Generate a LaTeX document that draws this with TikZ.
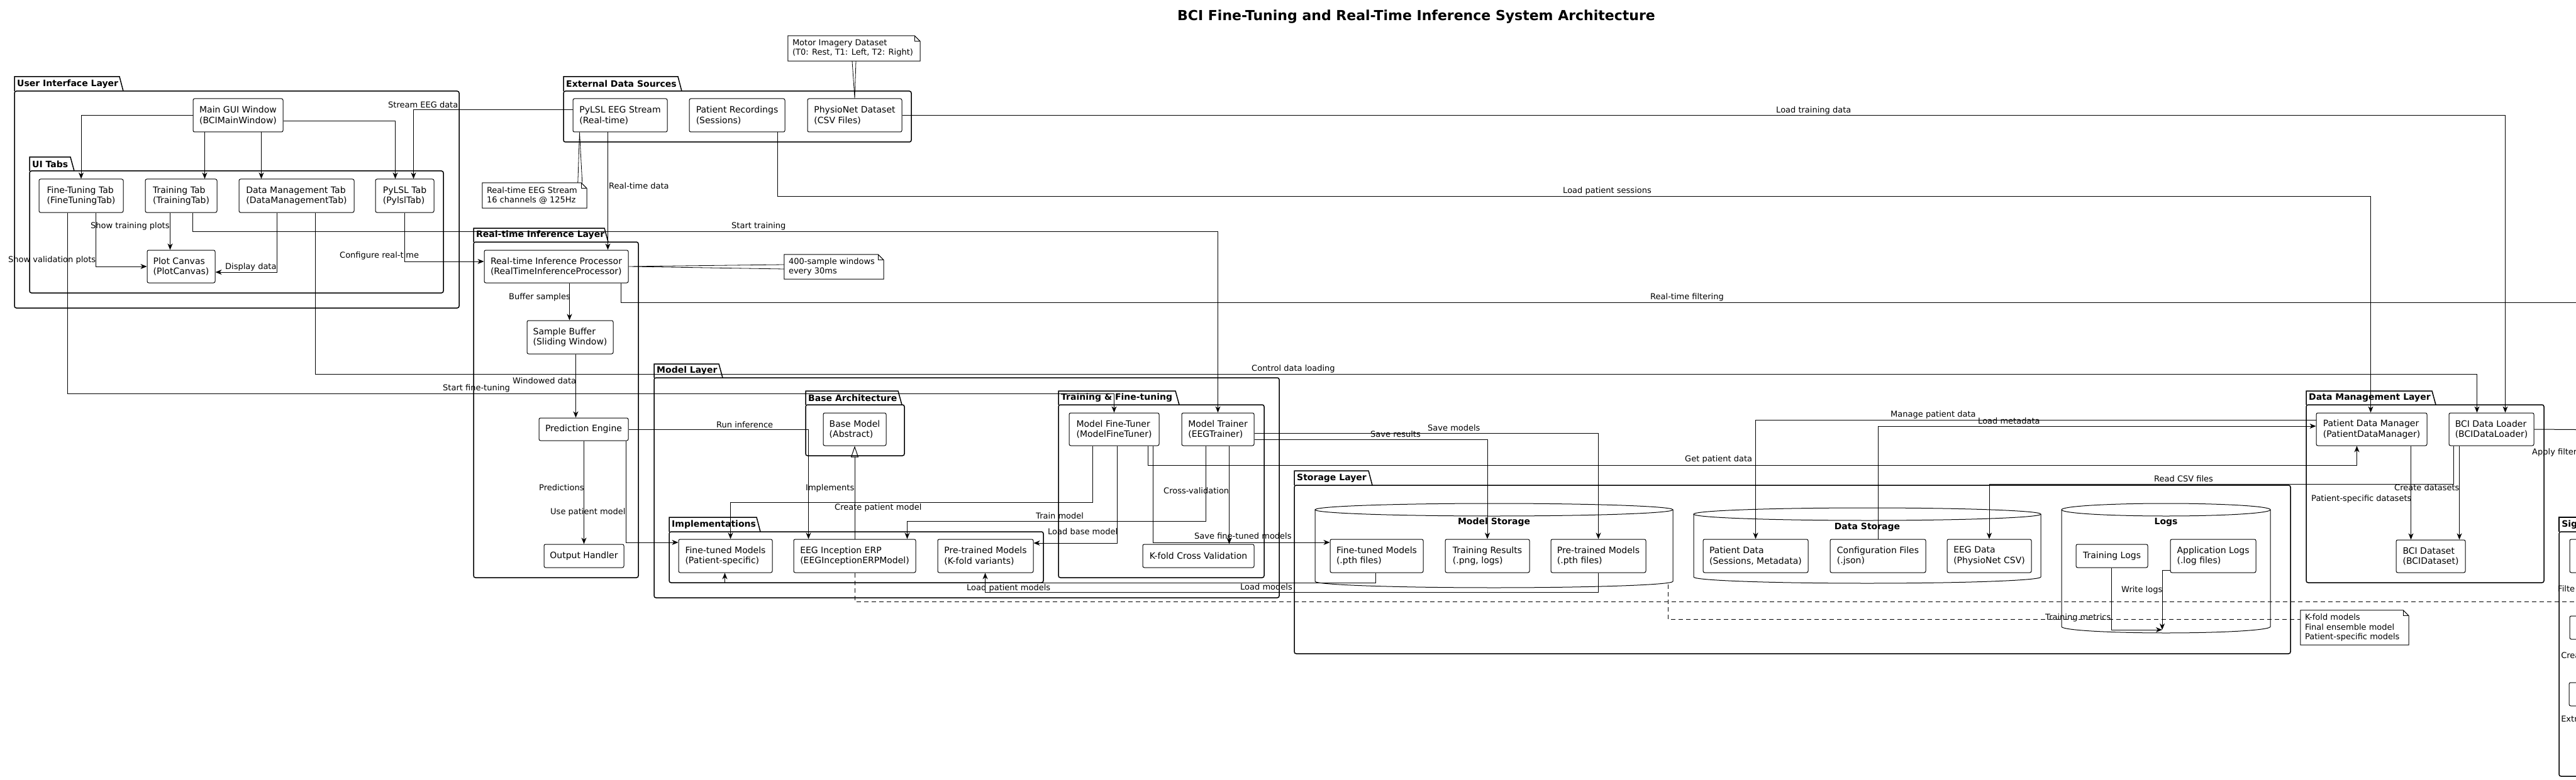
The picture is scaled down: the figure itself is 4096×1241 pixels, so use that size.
\documentclass[tikz,border=0pt]{standalone}
\usepackage{fontspec}
\setmainfont{DejaVu Sans}
\usetikzlibrary{arrows.meta,calc}
\tikzset{
 comp/.style={draw, line width=1pt, rounded corners=2.5pt, inner sep=0pt, align=left, font=\fontsize{14}{16.5}\selectfont},
 lbl/.style={anchor=west, inner sep=0pt, font=\fontsize{13}{15.5}\selectfont},
 notetxt/.style={anchor=west, inner sep=0pt, align=left, font=\fontsize{13}{15.2}\selectfont},
 arr/.style={line width=1pt, -{Stealth[length=10pt,width=8pt,inset=3pt]}},
 inh/.style={line width=1pt, -{Triangle[open,length=18pt,width=12pt]}},
 dashline/.style={line width=1pt, dash pattern=on 7pt off 5pt},
 pkgline/.style={line width=1.5pt},
 wedge/.style={line width=0.8pt},
 pkgtitle/.style={anchor=west, inner sep=0pt, font=\bfseries\fontsize{14}{16}\selectfont},
}
\newcommand\compbox[6]{%
 \pgfmathsetmacro\bxcx{(#2+#4)/2}%
 \pgfmathsetmacro\bxcy{(#3+#5)/2}%
 \pgfmathsetmacro\bxw{#4-#2}%
 \pgfmathsetmacro\bxh{#5-#3}%
 \node[comp, minimum width=\bxw pt, minimum height=\bxh pt] (#1) at (\bxcx,\bxcy) {#6};}
\newcommand\pkg[8]{%
 \draw[pkgline] (#2,#4) -- (#2,#3) -- ({#7-6},#3) -- (#7,#4);
 \draw[pkgline, rounded corners=3pt] (#2,#4) rectangle (#5,#6);
 \node[pkgtitle] (#1) at ({#2+4},{(#3+#4)/2}) {#8};}
\newcommand\notebox[6]{%
 \pgfmathsetmacro\bxcx{(#2+#4)/2}%
 \pgfmathsetmacro\bxcy{(#3+#5)/2}%
 \pgfmathsetmacro\bxw{#4-#2}%
 \pgfmathsetmacro\bxh{#5-#3}%
 \node[inner sep=0pt, minimum width=\bxw pt, minimum height=\bxh pt] (#1) at (\bxcx,\bxcy) {};
 \draw[line width=1pt] (#1.north west) -- ([xshift=-9pt]#1.north east) -- ([yshift=-9pt]#1.north east) -- (#1.south east) -- (#1.south west) -- cycle;
 \draw[line width=0.8pt] ([xshift=-9pt]#1.north east) -- ([xshift=-9pt,yshift=-9pt]#1.north east) -- ([yshift=-9pt]#1.north east);
 \node[notetxt] (#1t) at ([xshift=7pt]#1.west) {#6};}
\newcommand\cyl[7]{%
 \pgfmathsetmacro\cyrx{(#3-#2)/2}%
 \pgfmathsetmacro\cycx{(#2+#3)/2}%
 \pgfmathsetmacro\cyc{#4+10}%
 \draw[line width=1pt] (\cycx,\cyc) ellipse [x radius=\cyrx pt, y radius=10pt];
 \draw[line width=1pt] (#2,\cyc) -- (#2,#5) arc[start angle=180,end angle=360,x radius=\cyrx pt,y radius=10pt] -- (#3,\cyc);
 \node[pkgtitle,anchor=center] (#1) at (\cycx,#7) {#6};}
\newcommand\lbl[4]{\node[lbl] (#1) at (#2,#3) {#4};}
\begin{document}
\begin{tikzpicture}[x=1pt,y=-1pt]
\useasboundingbox (0,0) rectangle (4096,1241);
\fill[white] (0,0) rectangle (4096,1241);
\clip (0,0) rectangle (4096,1241);

\node[font=\bfseries\fontsize{22}{26}\selectfont] (title) at (2252,27) {BCI Fine-Tuning and Real-Time Inference System Architecture};

% packages
\pkg{pkUI}{23}{122}{145}{730}{490}{196}{User Interface Layer}
\pkg{pkTabs}{47}{250}{272}{705}{466}{118}{UI Tabs}
\pkg{pkExt}{896}{122}{145}{1449}{226}{1084}{External Data Sources}
\pkg{pkRT}{753}{363}{385}{1015}{919}{967}{Real-time Inference Layer}
\pkg{pkModel}{1040}{579}{601}{2034}{951}{1149}{Model Layer}
\pkg{pkBase}{1281}{622}{644}{1438}{725}{1434}{Base Architecture}
\pkg{pkTrain}{1683}{622}{644}{2010}{919}{1875}{Training \& Fine-tuning}
\pkg{pkImpl}{1064}{823}{846}{1659}{927}{1209}{Implementations}
\pkg{pkStore}{2058}{749}{772}{3642}{1040}{2182}{Storage Layer}
\pkg{pkData}{3667}{622}{644}{4045}{927}{3873}{Data Management Layer}
\draw[pkgline] (4069,846) -- (4069,823) -- (4160,823);
\draw[pkgline, rounded corners=3pt] (4160,846) -- (4069,846) -- (4069,1235) -- (4160,1235);
\node[pkgtitle] (pkSig) at (4073,834.5) {Sig};

% cylinders
\cyl{cyModel}{2091}{2660}{801}{925}{Model Storage}{831}
\cyl{cyData}{2693}{3245}{808}{918}{Data Storage}{839}
\cyl{cyLogs}{3278}{3610}{801}{997}{Logs}{831}

% components
\compbox{maingui}{307}{157}{450}{210}{Main GUI Window\\(BCIMainWindow)}
\compbox{ftt}{62}{285}{196}{338}{Fine-Tuning Tab\\(FineTuningTab)}
\compbox{trt}{231}{285}{345}{338}{Training Tab\\(TrainingTab)}
\compbox{dmt}{380}{285}{563}{338}{Data Management Tab\\(DataManagementTab)}
\compbox{pyt}{597}{285}{690}{338}{PyLSL Tab\\(PylslTab)}
\compbox{plot}{234}{398}{342}{450}{Plot Canvas\\(PlotCanvas)}
\compbox{lsl}{911}{157}{1061}{210}{PyLSL EEG Stream\\(Real-time)}
\compbox{prec}{1096}{157}{1248}{210}{Patient Recordings\\(Sessions)}
\compbox{physio}{1284}{157}{1434}{210}{PhysioNet Dataset\\(CSV Files)}
\compbox{rtip}{770}{398}{999}{450}{Real-time Inference Processor\\(RealTimeInferenceProcessor)}
\compbox{sbuf}{838}{510}{975}{563}{Sample Buffer\\(Sliding Window)}
\compbox{pe}{857}{665}{999}{701}{Prediction Engine}
\compbox{oh}{865}{866}{992}{903}{Output Handler}
\compbox{bm}{1309}{657}{1409}{709}{Base Model\\(Abstract)}
\compbox{mft}{1700}{657}{1843}{709}{Model Fine-Tuner\\(ModelFineTuner)}
\compbox{mt}{1879}{657}{1994}{709}{Model Trainer\\(EEGTrainer)}
\compbox{kcv}{1817}{866}{1994}{903}{K-fold Cross Validation}
\compbox{ftm}{1079}{858}{1228}{911}{Fine-tuned Models\\(Patient-specific)}
\compbox{eeginc}{1262}{858}{1456}{911}{EEG Inception ERP\\(EEGInceptionERPModel)}
\compbox{ptm}{1491}{858}{1643}{911}{Pre-trained Models\\(K-fold variants)}
\compbox{sftm}{2115}{858}{2263}{911}{Fine-tuned Models\\(.pth files)}
\compbox{str}{2298}{858}{2432}{911}{Training Results\\(.png, logs)}
\compbox{sptm}{2466}{858}{2617}{911}{Pre-trained Models\\(.pth files)}
\compbox{pdata}{2708}{858}{2875}{911}{Patient Data\\(Sessions, Metadata)}
\compbox{cfg}{2910}{858}{3062}{911}{Configuration Files\\(.json)}
\compbox{eegd}{3096}{858}{3230}{911}{EEG Data\\(PhysioNet CSV)}
\compbox{tlogs}{3301}{866}{3415}{903}{Training Logs}
\compbox{alogs}{3451}{858}{3587}{911}{Application Logs\\(.log files)}
\compbox{pdm}{3683}{657}{3859}{709}{Patient Data Manager\\(PatientDataManager)}
\compbox{bdl}{3894}{657}{4029}{709}{BCI Data Loader\\(BCIDataLoader)}
\compbox{bds}{3810}{859}{3920}{911}{BCI Dataset\\(BCIDataset)}
\compbox{spa}{4086}{858}{4200}{911}{}
\compbox{spb}{4086}{980}{4200}{1017}{}
\compbox{spc}{4085}{1086}{4200}{1123}{}

% notes
\notebox{noteA}{1253}{57}{1463}{97}{Motor Imagery Dataset\\(T0: Rest, T1: Left, T2: Right)}
\notebox{noteB}{767}{291}{933}{331}{Real-time EEG Stream\\16 channels @ 125Hz}
\notebox{noteC}{1247}{405}{1405}{444}{400-sample windows\\every 30ms}
\notebox{noteD}{3658}{971}{3830}{1026}{K-fold models\\Final ensemble model\\Patient-specific models}
\draw[wedge] ([xshift=-3pt]noteA.south) -- (physio.north) -- ([xshift=3pt]noteA.south);
\draw[wedge] ([xshift=152pt]noteB.north west) -- ([xshift=11pt]lsl.south west) -- ([xshift=159pt]noteB.north west);
\draw[wedge] ([yshift=3.5pt]noteC.west) -- (rtip.east) -- ([yshift=-3.5pt]noteC.west);

% free ends
\coordinate (rtfEnd) at (4160,481);
\coordinate (filtEnd) at (4160,684);
\coordinate (dashEnd) at (4160,957);
\coordinate (msBot) at (2652,930);
\coordinate (logsIn) at (3438,1002);

% connectors
\draw[arr] (maingui.west) -| (ftt.north);
\draw[arr] ([xshift=19pt]maingui.south west) -- ([xshift=95pt]trt.north west);
\draw[arr] ([xshift=109pt]maingui.south west) -- ([xshift=36pt]dmt.north west);
\draw[arr] ([yshift=-9.5pt]maingui.east) -| ([xshift=32pt]pyt.north west);
\draw[arr] ([yshift=8.5pt]lsl.west) -| ([xshift=61pt]pyt.north west);
\draw[arr] ([xshift=40pt]trt.south west) -- ([xshift=37pt]plot.north west);
\draw[arr] ([xshift=91pt]ftt.south west) |- (plot.west);
\draw[arr] ([xshift=61pt]dmt.south west) |- ([yshift=-9pt]plot.east);
\draw[arr] ([xshift=47pt]pyt.south west) |- ([yshift=8pt]rtip.west);
\draw[arr] ([xshift=76pt]trt.south west) -- ++(0,30) -| ([xshift=58pt]mt.north west);
\draw[arr] ([xshift=46pt]ftt.south west) -- ++(0,288) -| (mft.north);
\draw[arr] ([xshift=122pt]dmt.south west) -- ++(0,257) -| ([xshift=45pt]bdl.north west);
\draw[arr] ([xshift=56pt]lsl.south west) -- ([xshift=197pt]rtip.north west);
\draw[arr] ([xshift=141pt]prec.south west) -- ++(0,102) -| ([xshift=87pt]pdm.north west);
\draw[arr] (physio.east) -| ([xshift=90pt]bdl.north west);
\draw[arr] ([xshift=136pt]rtip.south west) -- ([xshift=68pt]sbuf.north west);
\draw[arr] ([xshift=218pt]rtip.south west) |- (rtfEnd);
\draw[arr] ([xshift=78pt]sbuf.south west) -- ([xshift=59pt]pe.north west);
\draw[arr] ([xshift=72pt]pe.south west) -- ([xshift=64pt]oh.north west);
\draw[arr] ([xshift=139pt]pe.south west) |- ([yshift=21.5pt]ftm.west);
\draw[arr] (pe.east) -| ([xshift=24pt]eeginc.north west);
\draw[inh] (eeginc.north) -- (bm.south);
\draw[arr] ([xshift=38pt]mft.south west) -- ++(0,90) -| ([xshift=83pt]ftm.north west);
\draw[arr] ([xshift=39pt]mt.south west) -- ++(0,120) -| ([xshift=181pt]eeginc.north west);
\draw[arr] ([xshift=77pt]mft.south west) |- ([yshift=20.5pt]ptm.east);
\draw[arr] ([xshift=76pt]mt.south west) -- ([xshift=138pt]kcv.north west);
\draw[arr] ([xshift=134pt]mft.south west) |- ([yshift=21.5pt]sftm.west);
\draw[arr] ([xshift=126pt]mft.south west) -- ++(0,31) -| ([xshift=65pt]pdm.south west);
\draw[arr] ([yshift=-6pt]mt.east) -| (sptm.north);
\draw[arr] ([yshift=-16pt]mt.east) -| (str.north);
\draw[arr] ([xshift=73pt]sftm.south west) -- ++(0,16) -| ([xshift=74pt]ftm.south west);
\draw[arr] (sptm.south) -- ++(0,31) -| ([xshift=76pt]ptm.south west);
\draw[arr] ([yshift=15pt]pdm.west) -| (pdata.north);
\draw[arr] (cfg.north) |- ([yshift=5pt]pdm.west);
\draw[arr] ([xshift=8pt]bdl.south west) -- ++(0,61) -| (eegd.north);
\draw[arr] ([xshift=17pt]bdl.south west) -- ([xshift=101pt]bds.north west);
\draw[arr] ([xshift=151pt]pdm.south west) -- ([xshift=24pt]bds.north west);
\draw[arr] (bdl.east) -- (filtEnd);
\draw[arr] ([xshift=57pt]tlogs.south west) |- (logsIn);
\draw[arr] ([yshift=-22.5pt]alogs.west) -| (logsIn);
\draw[dashline] (eeginc.south) |- (dashEnd);
\draw[dashline] (msBot) |- ([yshift=13.5pt]noteD.west);

% labels
\lbl{l1}{617}{167}{Stream EEG data}
\lbl{l2}{968}{296}{Real-time data}
\lbl{l3}{144}{360}{Show training plots}
\lbl{l4}{13}{414}{Show validation plots}
\lbl{l5}{358}{425}{Display data}
\lbl{l6}{540}{407}{Configure real-time}
\lbl{l7}{1163}{360}{Start training}
\lbl{l8}{809}{473}{Buffer samples}
\lbl{l9}{815}{606}{Windowed data}
\lbl{l10}{704}{618}{Start fine-tuning}
\lbl{l11}{1990}{587}{Control data loading}
\lbl{l12}{857}{776}{Predictions}
\lbl{l13}{875}{815}{Use patient model}
\lbl{l14}{1139}{676}{Run inference}
\lbl{l15}{1281}{777}{Implements}
\lbl{l16}{1327}{808}{Create patient model}
\lbl{l17}{1647}{821}{Train model}
\lbl{l18}{1666}{846}{Load base model}
\lbl{l19}{1850}{781}{Cross-validation}
\lbl{l20}{1899}{853}{Save fine-tuned models}
\lbl{l21}{1537}{936}{Load patient models}
\lbl{l22}{1972}{934}{Load models}
\lbl{l23}{2270}{681}{Save models}
\lbl{l24}{2179}{691}{Save results}
\lbl{l25}{2679}{731}{Get patient data}
\lbl{l26}{3006}{660}{Manage patient data}
\lbl{l27}{3145}{670}{Load metadata}
\lbl{l28}{3425}{762}{Read CSV files}
\lbl{l29}{3807}{776}{Create datasets}
\lbl{l30}{3675}{794}{Patient-specific datasets}
\lbl{l31}{3373}{939}{Write logs}
\lbl{l32}{3252}{983}{Training metrics}
\lbl{l33}{2824}{176}{Load training data}
\lbl{l34}{2485}{304}{Load patient sessions}
\lbl{l35}{2624}{473}{Real-time filtering}
\lbl{l36}{4026}{720}{Apply filter}
\lbl{l37}{4067}{937}{Filte}
\lbl{l38}{4072}{1043}{Crea}
\lbl{l39}{4072}{1144}{Extr}
\end{tikzpicture}
\end{document}
